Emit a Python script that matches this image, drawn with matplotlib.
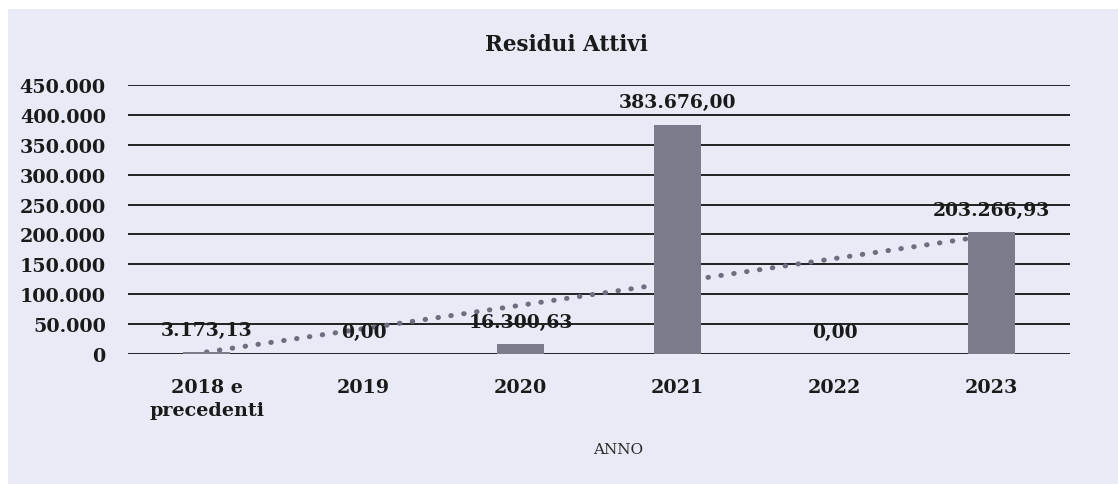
import numpy as np
import matplotlib
matplotlib.use("Agg")
import matplotlib.pyplot as plt
from matplotlib.patches import Rectangle

categories = ["2018 e\nprecedenti", "2019", "2020", "2021", "2022", "2023"]
values = [3173.13, 0.00, 16300.63, 383676.00, 0.00, 203266.93]
value_labels = ["3.173,13", "0,00", "16.300,63", "383.676,00", "0,00", "203.266,93"]
y_ticks = [0, 50000, 100000, 150000, 200000, 250000, 300000, 350000, 400000, 450000]
y_tick_labels = ["0", "50.000", "100.000", "150.000", "200.000", "250.000",
                 "300.000", "350.000", "400.000", "450.000"]

plt.rcParams["font.family"] = ["DejaVu Serif"]

fig = plt.figure(figsize=(11.18, 4.85), dpi=100, facecolor="white")
# scanned page tint
fig.patches.append(Rectangle((8 / 1118, 0), 1, 1 - 10 / 485, transform=fig.transFigure,
                             facecolor="#e8eaf5", edgecolor="none", zorder=-10))

ax = fig.add_axes([0.1145, 0.268, 0.8425, 0.5547])
ax.set_facecolor("none")

x = np.arange(len(categories))

# horizontal grid lines
for t in y_ticks:
    ax.axhline(t, color="#111111", lw=1.3, zorder=1)

# linear trend line
coef = np.polyfit(x, values, 1)
ax.plot(x, np.polyval(coef, x), color="#6e6e80", lw=3.6,
        linestyle=(0, (0.1, 2.5)), dash_capstyle="round", zorder=2)

ax.bar(x, values, width=0.3, color="#7b7b8c", zorder=3)

for xi, v, lab in zip(x, values, value_labels):
    ax.annotate(lab, (xi, v), xytext=(0, 16), textcoords="offset points",
                ha="center", va="center", fontsize=13.5, fontweight="bold",
                color="#1a1a1a", zorder=5)

ax.set_xlim(-0.5, len(categories) - 0.5)
ax.set_ylim(0, 450000)
ax.set_yticks(y_ticks)
ax.set_yticklabels(y_tick_labels, fontsize=13.8, fontweight="bold", color="#1a1a1a")
ax.set_xticks(x)
ax.set_xticklabels(categories, fontsize=13.8, fontweight="bold", color="#1a1a1a",
                   linespacing=1.35, va="top")
ax.tick_params(axis="both", length=0)
ax.tick_params(axis="y", pad=16)
ax.tick_params(axis="x", pad=17)
for s in ax.spines.values():
    s.set_visible(False)

fig.text(0.507, 1 - 45 / 485, "Residui Attivi", ha="center", va="center",
         fontsize=15.5, fontweight="bold", color="#1a1a1a")
fig.text(618 / 1118, 1 - 450 / 485, "ANNO", ha="center", va="center",
         fontsize=11, color="#2a2a2a")

fig.savefig("out.png", dpi=100, facecolor=fig.get_facecolor())
